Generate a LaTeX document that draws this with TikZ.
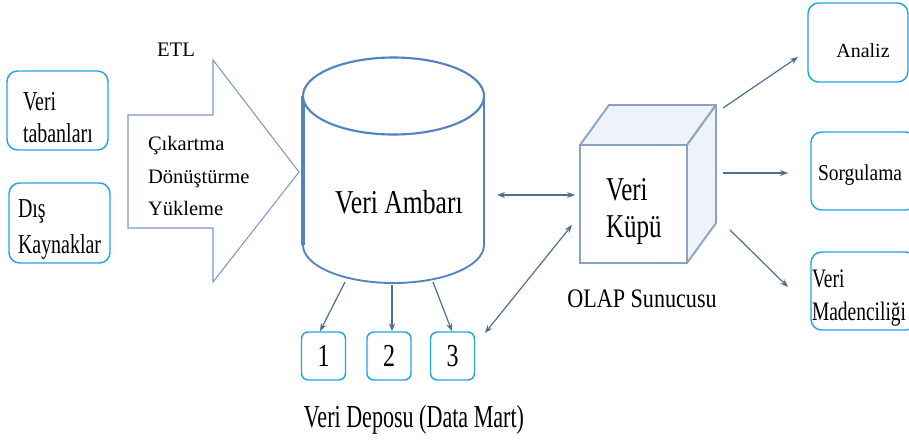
\documentclass[tikz,border=0pt]{standalone}
\usepackage{fontspec}
\setmainfont{Liberation Serif}
\usepackage{graphicx}
\usetikzlibrary{arrows.meta}
\definecolor{boxblue}{HTML}{22A3E6}
\definecolor{arrowblue}{HTML}{7F96C6}
\definecolor{cylblue}{HTML}{5584BC}
\definecolor{cubeblue}{HTML}{8AA3C4}
\definecolor{cubelight}{HTML}{EEF3FA}
\definecolor{linkblue}{HTML}{4E6F96}
\newcommand\tx[3]{\scalebox{#1}[1]{\fontsize{#2pt}{#2pt}\selectfont #3}}
\begin{document}
\begin{tikzpicture}[x=0.75pt,y=-0.75pt,
  rbox/.style={draw=boxblue, line width=1.1pt, rounded corners=8pt, inner sep=0pt, fill=white},
  sbox/.style={rbox, rounded corners=5pt, minimum width=33pt, minimum height=36pt},
  lbl/.style={inner sep=0pt, outer sep=0pt, text=black},
  link/.style={draw=linkblue, line width=0.9pt, -{Stealth[length=6pt,width=4.5pt]}},
  dlink/.style={draw=linkblue, line width=0.9pt, {Stealth[length=6pt,width=4.5pt]}-{Stealth[length=6pt,width=4.5pt]}}]
\useasboundingbox (0,0) rectangle (909,440);
\clip (0,0) rectangle (909,440);
\fill[white] (0,0) rectangle (909,440);

% left source boxes
\node[rbox, minimum width=75.75pt, minimum height=59.25pt] (vt) at (57.5,110.5) {};
\node[lbl, anchor=base west] (vt1) at (23,110) {\tx{0.73}{20.5}{Veri}};
\node[lbl, anchor=base west] (vt2) at (23,142) {\tx{0.73}{20.5}{tabanları}};
\node[rbox, minimum width=75.75pt, minimum height=60pt] (dk) at (59.5,223) {};
\node[lbl, anchor=base west] (dk1) at (18,217) {\tx{0.73}{20.5}{Dış}};
\node[lbl, anchor=base west] (dk2) at (18,253) {\tx{0.73}{20.5}{Kaynaklar}};

% ETL arrow
\draw[arrowblue, line width=0.8pt, fill=white, line join=miter]
  (128,115) -- (213,115) -- (213,60) -- (299,172) -- (213,282) -- (213,228) -- (128,228) -- cycle;
\node[lbl, anchor=base] (etl) at (176,56) {\tx{1}{15.5}{ETL}};
\node[lbl, anchor=base west] (e1) at (148,150) {\tx{1}{15.4}{Çıkartma}};
\node[lbl, anchor=base west] (e2) at (148,183) {\tx{1}{15.4}{Dönüştürme}};
\node[lbl, anchor=base west] (e3) at (148,215) {\tx{1}{15.4}{Yükleme}};

% cylinder
\fill[white] (303,96) -- (303,245) arc[start angle=180, end angle=0, x radius=90.5, y radius=38] -- (484,96) -- cycle;
\draw[cylblue, line width=1.4pt] (484,96) -- (484,245) arc[start angle=0, end angle=180, x radius=90.5, y radius=38];
\draw[cylblue, line width=2.4pt] (303,96) -- (303,245);
\draw[cylblue, line width=1.6pt, fill=white] (393.5,96) ellipse[x radius=90.5, y radius=38.5];
\node[lbl, anchor=base] (va) at (399,213) {\tx{0.77}{25}{Veri Ambarı}};
\coordinate (cylR) at (497,195);
\coordinate (cb1) at (345,282);
\coordinate (cb2) at (392,285);
\coordinate (cb3) at (433,282);

% data marts
\node[sbox] (m1) at (323.5,356) {\tx{0.75}{24}{1}};
\node[sbox] (m2) at (389,356) {\tx{0.75}{24}{2}};
\node[sbox] (m3) at (452.5,356) {\tx{0.75}{24}{3}};
\node[lbl, anchor=base] (dm) at (414,427) {\tx{0.69}{24}{Veri Deposu (Data Mart)}};

% cube
\draw[cubeblue, line width=1.4pt, fill=cubelight, line join=round] (580,145) -- (609,105) -- (716,105) -- (687,145) -- cycle;
\draw[cubeblue, line width=1.4pt, fill=cubelight, line join=round] (687,145) -- (716,105) -- (716,223) -- (687,263) -- cycle;
\draw[cubeblue, line width=1.4pt, fill=white] (580,145) rectangle (687,263);
\node[lbl, anchor=base west] (k1) at (606,200) {\tx{0.75}{25}{Veri}};
\node[lbl, anchor=base west] (k2) at (606,237) {\tx{0.75}{25}{Küpü}};
\node[lbl, anchor=base] (olap) at (642,307) {\tx{0.83}{20}{OLAP Sunucusu}};
\coordinate (cubeL) at (575,195);
\coordinate (cubeLL) at (572,225);
\coordinate (m3R) at (485,333);
\coordinate (cubeA) at (723,108);
\coordinate (cubeS) at (723,173);
\coordinate (cubeV) at (730,230);

% right boxes
\node[rbox, minimum width=75pt, minimum height=59.25pt] (an) at (858,42.5) {};
\node[lbl, anchor=base] (an1) at (863,57) {\tx{1}{15}{Analiz}};
\node[rbox, minimum width=78.75pt, minimum height=58.5pt] (sg) at (863.5,171) {};
\node[lbl, anchor=base west] (sg1) at (818,180) {\tx{0.86}{17}{Sorgulama}};
\node[rbox, minimum width=78.75pt, minimum height=58.5pt] (vm) at (863.5,291) {};
\node[lbl, anchor=base west] (vm1) at (812,287) {\tx{0.73}{20}{Veri}};
\node[lbl, anchor=base west] (vm2) at (812,320) {\tx{0.73}{20}{Madenciliği}};
\coordinate (anL) at (798,57);
\coordinate (sgL) at (788,173);
\coordinate (vmL) at (788,287);

% connectors
\draw[dlink] (cylR) -- (cubeL);
\draw[dlink] (m3R) -- (cubeLL);
\draw[link] (cb1) -- (m1.north -| 320,0);
\draw[link] (cb2) -- (m2.north -| 392,0);
\draw[link] (cb3) -- (m3.north -| 452,0);
\draw[link] (cubeA) -- (anL);
\draw[link] (cubeS) -- (sgL);
\draw[link] (cubeV) -- (vmL);
\end{tikzpicture}
\end{document}
